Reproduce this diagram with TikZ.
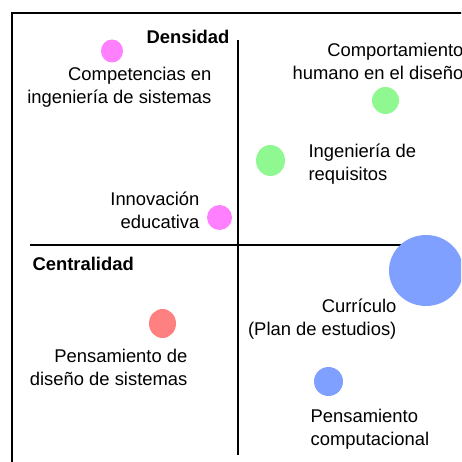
\documentclass[tikz,border=0pt]{standalone}
\usepackage{fontspec}
\setmainfont{Liberation Sans}
\usepackage{tikz}
\usetikzlibrary{shapes.geometric}

\definecolor{pinkdot}{RGB}{255,128,255}
\definecolor{greendot}{RGB}{144,248,144}
\definecolor{reddot}{RGB}{255,128,128}
\definecolor{bluedot}{RGB}{128,160,255}

\begin{document}
\begin{tikzpicture}[x=1pt,y=-1pt,line width=1.2pt]
\tikzstyle{every node}=[inner sep=0pt,text=black]
\tikzstyle{bubble}=[ellipse,draw=none,inner sep=0pt]
\tikzset{font=\fontsize{18.4pt}{23pt}\selectfont}

        \useasboundingbox (0,0) rectangle (461,462);
        \clip (0,0) rectangle (461,462);

        % frame, cut off at the right and at the bottom
        \draw (12,13) rectangle (490,490);

        % axes
        \coordinate (top)   at (238,40);
        \coordinate (bot)   at (238,455);
        \coordinate (west)  at (30,245);
        \coordinate (east)  at (405,245);
        \draw (west) -- (east);
        \draw (top) -- (bot);

        \node[anchor=north east, font=\fontsize{18.4pt}{23pt}\selectfont\bfseries]  (dens) at (230,30)  {Densidad};
        \node[anchor=north west, font=\fontsize{18.4pt}{23pt}\selectfont\bfseries]  (cent) at (32,257)  {Centralidad};

        \node[bubble, fill=pinkdot,  minimum width=22pt, minimum height=23pt]   (c0) at (112,51)    {};
        \node[anchor=north east, align=right]                                  (l0) at (212,67)    {Competencias en\\ingeniería de sistemas};

        \node[bubble, fill=greendot, minimum width=27pt, minimum height=27pt]   (c1) at (385.5,100.5) {};
        \node[anchor=north east, align=right]                                  (l1) at (464,43)    {Comportamiento\\humano en el diseño};

        \node[bubble, fill=greendot, minimum width=29pt, minimum height=31pt]   (c2) at (270.5,160.5) {};
        \node[anchor=north west, align=left]                                   (l2) at (308,143)   {Ingeniería de\\requisitos};

        \node[bubble, fill=pinkdot,  minimum width=25pt, minimum height=25pt]   (c3) at (219.5,217.5) {};
        \node[anchor=north east, align=right]                                  (l3) at (200,191)   {Innovación\\educativa};

        \node[bubble, fill=bluedot,  minimum width=74pt, minimum height=71pt]   (c4) at (426,270.5) {};
        \node[anchor=north east, align=right]                                  (l4) at (397,298)   {Currículo\\(Plan de estudios)};

        \node[bubble, fill=reddot,   minimum width=27pt, minimum height=29pt]   (c5) at (162.5,323.5) {};
        \node[anchor=north east, align=right]                                  (l5) at (188,349)   {Pensamiento de\\diseño de sistemas};

        \node[bubble, fill=bluedot,  minimum width=29pt, minimum height=29pt]   (c6) at (328.5,381.5) {};
        \node[anchor=north west, align=left]                                   (l6) at (310,409)   {Pensamiento\\computacional};

\end{tikzpicture}
\end{document}
